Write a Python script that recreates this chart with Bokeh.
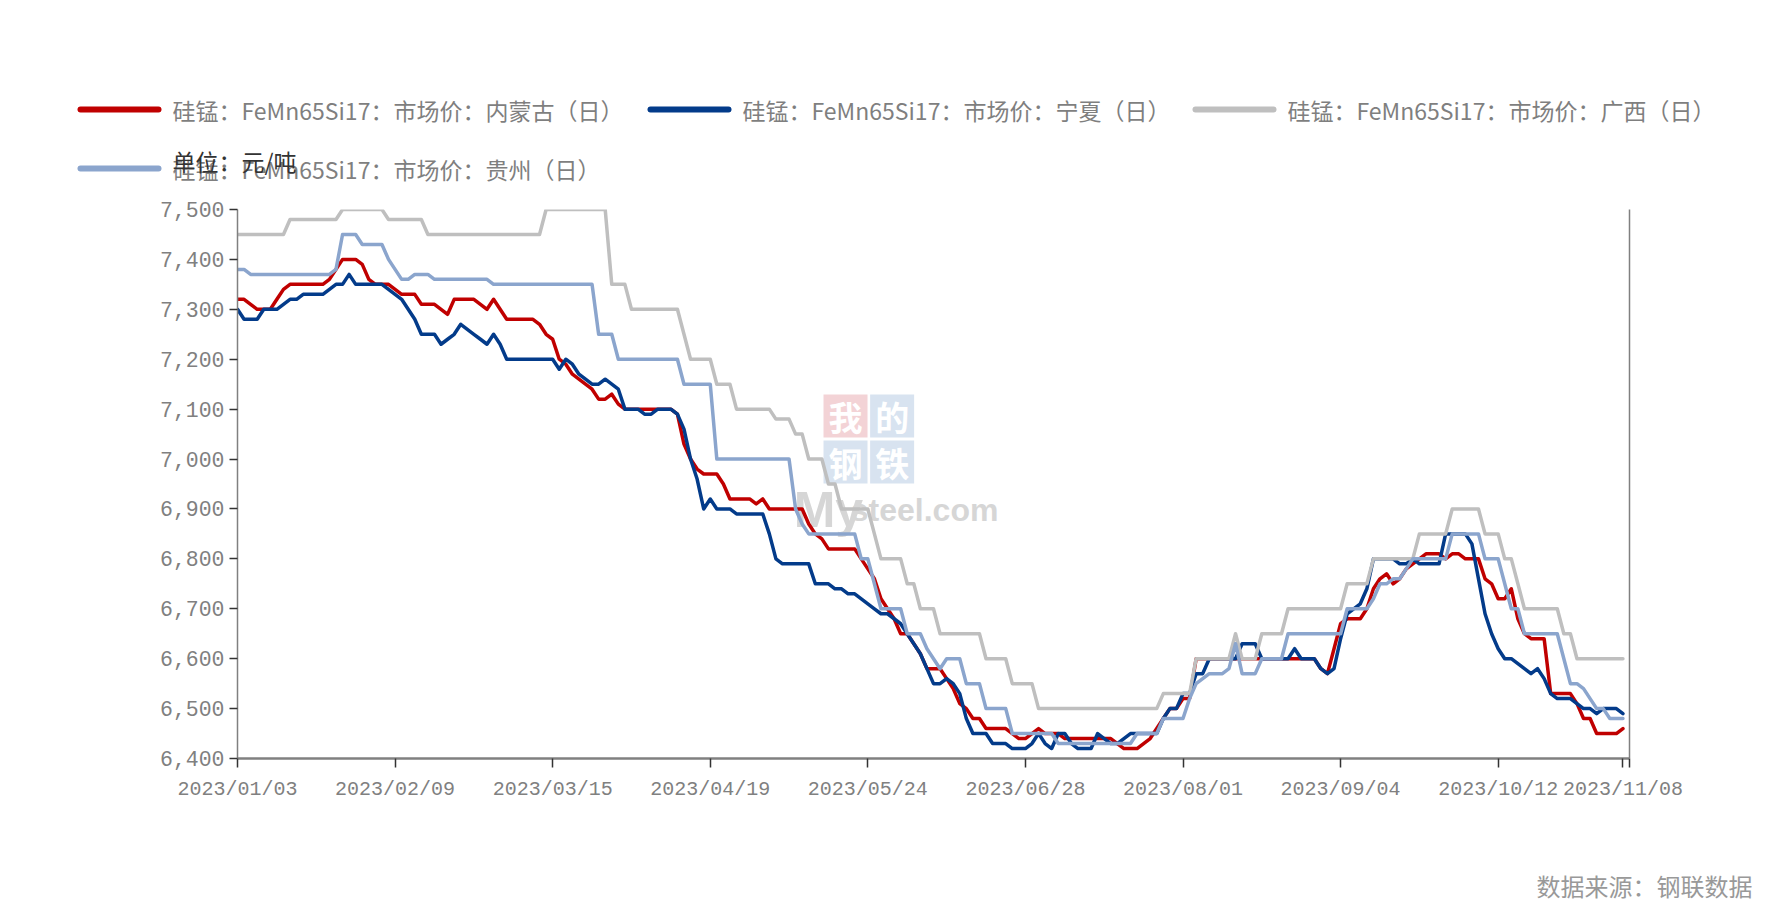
from bokeh.plotting import figure
from bokeh.layouts import column
from bokeh.models import Range1d, LinearAxis, FixedTicker, NumeralTickFormatter
from bokeh.embed import file_html
from bokeh.resources import INLINE
from bokeh.core.properties import value

# ---------------- data (trading-day index 0..211, 2023/01/03 .. 2023/11/08) ----------------
tick_idx = [0, 24, 48, 72, 96, 120, 144, 168, 192, 211]
tick_labels = ["2023/01/03", "2023/02/09", "2023/03/15", "2023/04/19", "2023/05/24",
               "2023/06/28", "2023/08/01", "2023/09/04", "2023/10/12", "2023/11/08"]
y_ticks = [6400, 6500, 6600, 6700, 6800, 6900, 7000, 7100, 7200, 7300, 7400, 7500]

series_names = ["硅锰：FeMn65Si17：市场价：内蒙古（日）",
                "硅锰：FeMn65Si17：市场价：宁夏（日）",
                "硅锰：FeMn65Si17：市场价：广西（日）",
                "硅锰：FeMn65Si17：市场价：贵州（日）"]

neimenggu = [
    7320, 7320, 7310, 7300, 7300, 7300, 7320, 7340, 7350, 7350, 7350, 7350,
    7350, 7350, 7360, 7380, 7400, 7400, 7400, 7390, 7360, 7350, 7350, 7350,
    7340, 7330, 7330, 7330, 7310, 7310, 7310, 7300, 7290, 7320, 7320, 7320,
    7320, 7310, 7300, 7320, 7300, 7280, 7280, 7280, 7280, 7280, 7270, 7250,
    7240, 7200, 7190, 7170, 7160, 7150, 7140, 7120, 7120, 7130, 7110, 7100,
    7100, 7100, 7100, 7100, 7100, 7100, 7100, 7090, 7030, 7000, 6980, 6970,
    6970, 6970, 6950, 6920, 6920, 6920, 6920, 6910, 6920, 6900, 6900, 6900,
    6900, 6900, 6900, 6870, 6850, 6840, 6820, 6820, 6820, 6820, 6820, 6800,
    6780, 6760, 6720, 6700, 6680, 6650, 6650, 6630, 6610, 6580, 6580, 6580,
    6560, 6540, 6510, 6500, 6480, 6480, 6460, 6460, 6460, 6460, 6450, 6440,
    6440, 6450, 6460, 6450, 6450, 6450, 6440, 6440, 6440, 6440, 6440, 6440,
    6440, 6440, 6430, 6420, 6420, 6420, 6430, 6440, 6460, 6480, 6500, 6500,
    6520, 6520, 6600, 6600, 6600, 6600, 6600, 6600, 6600, 6600, 6600, 6600,
    6600, 6600, 6600, 6600, 6600, 6600, 6600, 6600, 6600, 6580, 6570, 6620,
    6670, 6680, 6680, 6680, 6700, 6740, 6760, 6770, 6750, 6760, 6780, 6790,
    6800, 6810, 6810, 6810, 6800, 6810, 6810, 6800, 6800, 6800, 6760, 6750,
    6720, 6720, 6740, 6680, 6650, 6640, 6640, 6640, 6530, 6530, 6530, 6530,
    6510, 6480, 6480, 6450, 6450, 6450, 6450, 6460,
]

ningxia = [
    7300, 7280, 7280, 7280, 7300, 7300, 7300, 7310, 7320, 7320, 7330, 7330,
    7330, 7330, 7340, 7350, 7350, 7370, 7350, 7350, 7350, 7350, 7350, 7340,
    7330, 7320, 7300, 7280, 7250, 7250, 7250, 7230, 7240, 7250, 7270, 7260,
    7250, 7240, 7230, 7250, 7230, 7200, 7200, 7200, 7200, 7200, 7200, 7200,
    7200, 7180, 7200, 7190, 7170, 7160, 7150, 7150, 7160, 7150, 7140, 7100,
    7100, 7100, 7090, 7090, 7100, 7100, 7100, 7090, 7060, 7000, 6960, 6900,
    6920, 6900, 6900, 6900, 6890, 6890, 6890, 6890, 6890, 6850, 6800, 6790,
    6790, 6790, 6790, 6790, 6750, 6750, 6750, 6740, 6740, 6730, 6730, 6720,
    6710, 6700, 6690, 6690, 6680, 6670, 6650, 6630, 6610, 6580, 6550, 6550,
    6560, 6550, 6530, 6480, 6450, 6450, 6450, 6430, 6430, 6430, 6420, 6420,
    6420, 6430, 6450, 6430, 6420, 6450, 6450, 6430, 6420, 6420, 6420, 6450,
    6440, 6430, 6430, 6440, 6450, 6450, 6450, 6450, 6450, 6480, 6500, 6500,
    6530, 6530, 6570, 6570, 6600, 6600, 6600, 6600, 6600, 6630, 6630, 6630,
    6600, 6600, 6600, 6600, 6600, 6620, 6600, 6600, 6600, 6580, 6570, 6580,
    6640, 6690, 6700, 6710, 6740, 6800, 6800, 6800, 6800, 6790, 6790, 6800,
    6790, 6790, 6790, 6790, 6850, 6850, 6850, 6850, 6830, 6760, 6690, 6650,
    6620, 6600, 6600, 6590, 6580, 6570, 6580, 6560, 6530, 6520, 6520, 6520,
    6510, 6500, 6500, 6490, 6500, 6500, 6500, 6490,
]

guangxi = [
    7450, 7450, 7450, 7450, 7450, 7450, 7450, 7450, 7480, 7480, 7480, 7480,
    7480, 7480, 7480, 7480, 7500, 7500, 7500, 7500, 7500, 7500, 7500, 7480,
    7480, 7480, 7480, 7480, 7480, 7450, 7450, 7450, 7450, 7450, 7450, 7450,
    7450, 7450, 7450, 7450, 7450, 7450, 7450, 7450, 7450, 7450, 7450, 7500,
    7500, 7500, 7500, 7500, 7500, 7500, 7500, 7500, 7500, 7350, 7350, 7350,
    7300, 7300, 7300, 7300, 7300, 7300, 7300, 7300, 7250, 7200, 7200, 7200,
    7200, 7150, 7150, 7150, 7100, 7100, 7100, 7100, 7100, 7100, 7080, 7080,
    7080, 7050, 7050, 7000, 7000, 7000, 6950, 6950, 6900, 6900, 6900, 6900,
    6900, 6850, 6800, 6800, 6800, 6800, 6750, 6750, 6700, 6700, 6700, 6650,
    6650, 6650, 6650, 6650, 6650, 6650, 6600, 6600, 6600, 6600, 6550, 6550,
    6550, 6550, 6500, 6500, 6500, 6500, 6500, 6500, 6500, 6500, 6500, 6500,
    6500, 6500, 6500, 6500, 6500, 6500, 6500, 6500, 6500, 6530, 6530, 6530,
    6530, 6530, 6600, 6600, 6600, 6600, 6600, 6600, 6650, 6600, 6600, 6600,
    6650, 6650, 6650, 6650, 6700, 6700, 6700, 6700, 6700, 6700, 6700, 6700,
    6700, 6750, 6750, 6750, 6750, 6800, 6800, 6800, 6800, 6800, 6800, 6800,
    6850, 6850, 6850, 6850, 6850, 6900, 6900, 6900, 6900, 6900, 6850, 6850,
    6850, 6800, 6800, 6750, 6700, 6700, 6700, 6700, 6700, 6700, 6650, 6650,
    6600, 6600, 6600, 6600, 6600, 6600, 6600, 6600,
]

guizhou = [
    7380, 7380, 7370, 7370, 7370, 7370, 7370, 7370, 7370, 7370, 7370, 7370,
    7370, 7370, 7370, 7380, 7450, 7450, 7450, 7430, 7430, 7430, 7430, 7400,
    7380, 7360, 7360, 7370, 7370, 7370, 7360, 7360, 7360, 7360, 7360, 7360,
    7360, 7360, 7360, 7350, 7350, 7350, 7350, 7350, 7350, 7350, 7350, 7350,
    7350, 7350, 7350, 7350, 7350, 7350, 7350, 7250, 7250, 7250, 7200, 7200,
    7200, 7200, 7200, 7200, 7200, 7200, 7200, 7200, 7150, 7150, 7150, 7150,
    7150, 7000, 7000, 7000, 7000, 7000, 7000, 7000, 7000, 7000, 7000, 7000,
    7000, 6900, 6870, 6850, 6850, 6850, 6850, 6850, 6850, 6850, 6850, 6800,
    6800, 6750, 6700, 6700, 6700, 6700, 6650, 6650, 6650, 6620, 6600, 6580,
    6600, 6600, 6600, 6550, 6550, 6550, 6500, 6500, 6500, 6500, 6450, 6450,
    6450, 6450, 6450, 6450, 6450, 6430, 6430, 6430, 6430, 6430, 6430, 6430,
    6430, 6430, 6430, 6430, 6430, 6450, 6450, 6450, 6450, 6480, 6480, 6480,
    6480, 6520, 6550, 6560, 6570, 6570, 6570, 6580, 6630, 6570, 6570, 6570,
    6600, 6600, 6600, 6600, 6650, 6650, 6650, 6650, 6650, 6650, 6650, 6650,
    6650, 6700, 6700, 6700, 6700, 6720, 6750, 6750, 6760, 6760, 6780, 6800,
    6800, 6800, 6800, 6800, 6800, 6850, 6850, 6850, 6850, 6850, 6800, 6800,
    6800, 6750, 6700, 6700, 6650, 6650, 6650, 6650, 6650, 6650, 6600, 6550,
    6550, 6540, 6520, 6500, 6500, 6480, 6480, 6480,
]

series_values = [neimenggu, ningxia, guangxi, guizhou]
series_colors = ["#C00000", "#033B8A", "#BFBFBF", "#8BA5CD"]
for s in series_values:
    if len(s) != 212:
        raise ValueError("length %d" % len(s))
x_idx = list(range(len(neimenggu)))

AXIS_FONT = "Liberation Mono"
CJK_FONT = "Noto Sans CJK SC"
W = 1772

# ---------------- top strip: legend ----------------
top_h = 196
top = figure(width=W, height=top_h, x_range=Range1d(0, W), y_range=Range1d(top_h, 0),
             output_backend="svg", toolbar_location=None,
             x_axis_location=None, y_axis_location=None, min_border=0)
top.frame_align = False
top.outline_line_color = None
top.grid.visible = False

leg_x0 = [80, 650, 1195, 80]
leg_y = [109, 109, 109, 168]
leg_len = 78
leg_gap = 14
top.segment(x0=leg_x0, y0=leg_y, x1=[x + leg_len for x in leg_x0], y1=leg_y,
            line_color=series_colors, line_width=6, line_cap="round")
top.text(x=[x + leg_len + leg_gap for x in leg_x0], y=leg_y, text=series_names,
         text_font=value(CJK_FONT), text_font_size="23px", text_color="#7f7f7f",
         text_baseline="middle", text_align="left")
top.text(x=[leg_x0[3] + leg_len + leg_gap], y=[160], text=["单位：元/吨"],
         text_font=value(CJK_FONT), text_font_size="23px", text_color="#333333",
         text_baseline="middle", text_align="left")

# ---------------- main chart ----------------
p = figure(width=W, height=615, x_range=Range1d(0, 212), y_range=Range1d(6400, 7500),
           output_backend="svg", toolbar_location=None,
           min_border_left=237, min_border_right=143, min_border_top=13, min_border_bottom=53)
p.frame_align = False
p.outline_line_color = None
p.grid.visible = False

# watermark
p.rect(x=[92.6, 99.7, 92.6, 99.7], y=[7086, 7086, 6994, 6994], width=44, height=43,
       width_units="screen", height_units="screen",
       fill_color=["#F3D3D6", "#D8E3F0", "#D8E3F0", "#D8E3F0"], line_color=None)
p.text(x=[92.6, 99.7, 92.6, 99.7], y=[7086, 7086, 6994, 6994], text=["我", "的", "钢", "铁"],
       text_font=value(CJK_FONT), text_font_style="bold", text_font_size="34px",
       text_color="white", text_align="center", text_baseline="middle")
p.text(x=[84.7], y=[6898], text=["My"], text_font=value("Liberation Sans"), text_font_style="bold",
       text_font_size="50px", text_color="#D6D6D6", text_align="left", text_baseline="alphabetic")
p.text(x=[93.4], y=[6898], text=["steel.com"], text_font=value("Liberation Sans"),
       text_font_style="bold", text_font_size="32px", text_color="#D6D6D6",
       text_align="left", text_baseline="alphabetic")

for vals, col in zip(series_values, series_colors):
    p.line(x_idx, vals, line_color=col, line_width=3.5, line_join="round", line_cap="round")

xa = p.xaxis[0]
xa.ticker = FixedTicker(ticks=tick_idx + [212])
overrides = {i: lab for i, lab in zip(tick_idx, tick_labels)}
overrides[212] = ""
xa.major_label_overrides = overrides
xa.axis_line_color = "#808080"
xa.axis_line_width = 2.5
xa.major_tick_line_color = "#333333"
xa.major_tick_line_width = 1.5
xa.major_tick_out = 9
xa.major_tick_in = 0
xa.minor_tick_line_color = None
xa.major_label_standoff = 10
xa.major_label_text_font = AXIS_FONT
xa.major_label_text_font_size = "20px"
xa.major_label_text_color = "#808080"

ya = p.yaxis[0]
ya.ticker = FixedTicker(ticks=y_ticks)
ya.formatter = NumeralTickFormatter(format="0,0")
ya.axis_line_color = "#808080"
ya.axis_line_width = 1.5
ya.major_tick_line_color = "#333333"
ya.major_tick_line_width = 1.5
ya.major_tick_out = 8
ya.major_tick_in = 0
ya.minor_tick_line_color = None
ya.major_label_standoff = 5
ya.major_label_text_font = AXIS_FONT
ya.major_label_text_font_size = "21.5px"
ya.major_label_text_color = "#808080"

ra = LinearAxis(ticker=FixedTicker(ticks=[]), axis_line_color="#808080", axis_line_width=1.5,
                major_tick_line_color=None, minor_tick_line_color=None,
                major_label_text_font_size="0px")
p.add_layout(ra, "right")

# ---------------- bottom strip: source ----------------
bot = figure(width=W, height=100, x_range=Range1d(0, W), y_range=Range1d(100, 0),
             output_backend="svg", toolbar_location=None,
             x_axis_location=None, y_axis_location=None, min_border=0)
bot.frame_align = False
bot.outline_line_color = None
bot.grid.visible = False
bot.text(x=[1752], y=[74], text=["数据来源：钢联数据"], text_font=value(CJK_FONT),
         text_font_size="24px", text_color="#999999", text_align="right", text_baseline="middle")

layout = column(top, p, bot, spacing=0)
open("out.html", "w").write(file_html(layout, INLINE))
